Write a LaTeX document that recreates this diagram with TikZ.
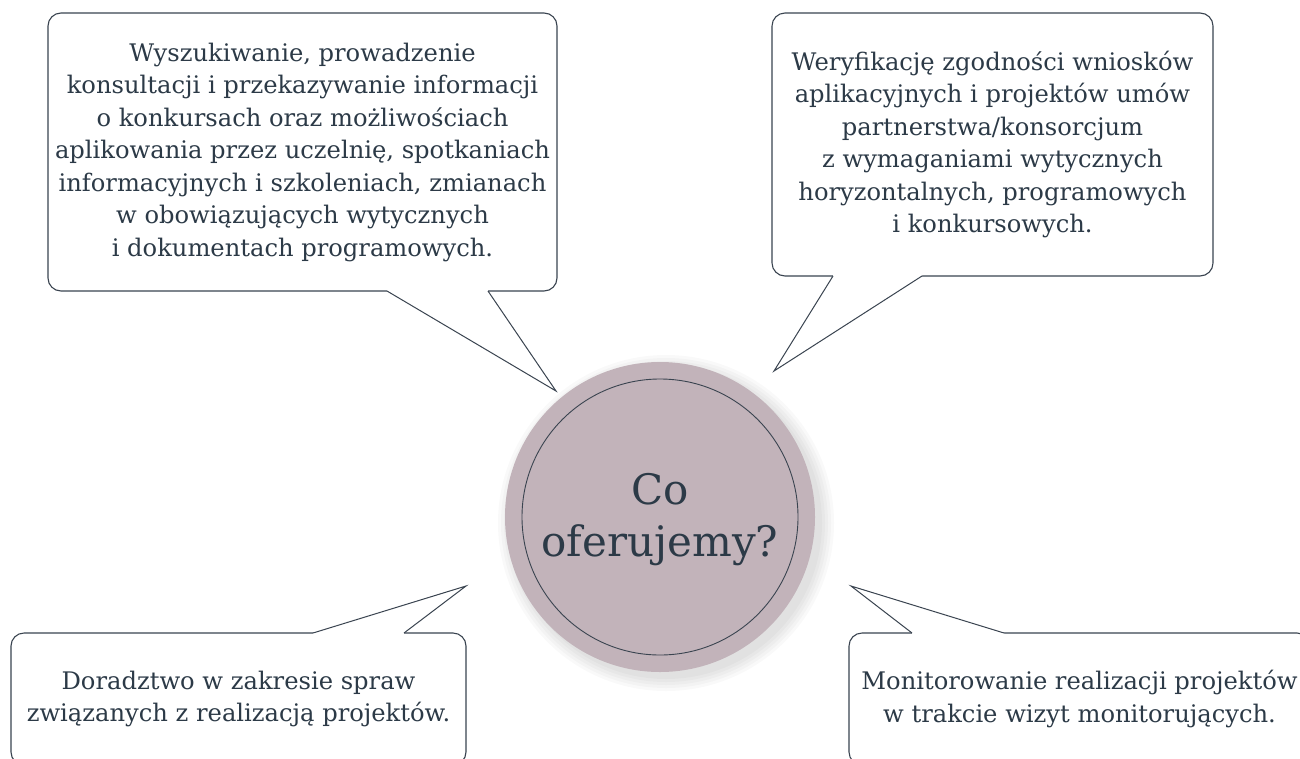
\documentclass[tikz,border=0pt]{standalone}
\usepackage{fontspec}
\setmainfont{DejaVu Serif}
\usetikzlibrary{calc}
\definecolor{ink}{HTML}{2C3A47}
\definecolor{edgecol}{HTML}{3A4450}
\definecolor{mauve}{HTML}{C2B3BA}
\tikzset{
  callout/.style={draw=edgecol, line width=1.1pt, fill=white, rounded corners=13pt,
    align=center, text=ink, font=\fontsize{24.2}{32.5}\selectfont, inner sep=0pt},
  pointer/.style={draw=edgecol, line width=1.0pt, line join=miter},
  cover/.style={fill=white, draw=none},
}
\begin{document}
\begin{tikzpicture}[x=1pt,y=-1pt]
\useasboundingbox (0,0) rectangle (1300,758);
\clip (0,0) rectangle (1300,758);
\fill[white] (0,0) rectangle (1300,758);

% soft shadow of the central circle
\foreach \r in {168,165,162,159,156}{
  \fill[black, opacity=0.025] (666,523) circle[radius=\r pt];
}
% central circle
\node[circle, minimum size=310pt, inner sep=0pt, fill=mauve] (c) at (660,517) {};
\draw[edgecol, line width=0.9pt] (c.center) circle[radius=138pt];
\node[text=ink, align=center, font=\fontsize{42}{52}\selectfont, inner sep=0pt] (ctext) at (660,520) {Co\\oferujemy?};

% callout boxes
\node[callout, minimum width=509pt, minimum height=278pt] (tl) at (302.5,152)
  {Wyszukiwanie, prowadzenie\\konsultacji i przekazywanie informacji\\o konkursach oraz możliwościach\\aplikowania przez uczelnię, spotkaniach\\informacyjnych i szkoleniach, zmianach\\w obowiązujących wytycznych\\i dokumentach programowych.};
\node[callout, minimum width=441pt, minimum height=263pt] (tr) at (992.5,144.5)
  {Weryfikację zgodności wniosków\\aplikacyjnych i projektów umów\\partnerstwa/konsorcjum\\z wymaganiami wytycznych\\horyzontalnych, programowych\\i konkursowych.};
\node[callout, minimum width=455pt, minimum height=132pt] (bl) at (238.5,699)
  {Doradztwo w zakresie spraw\\związanych z realizacją projektów.};
\node[callout, minimum width=461pt, minimum height=132pt] (br) at (1079.5,699)
  {Monitorowanie realizacji projektów\\w trakcie wizyt monitorujących.};

% pointer coordinates
\coordinate (tlA) at (387,291); \coordinate (tlB) at (488,291); \coordinate (tlT) at (556,391);
\coordinate (trA) at (833,276); \coordinate (trB) at (922,276); \coordinate (trT) at (774,371);
\coordinate (blA) at (313,633); \coordinate (blB) at (404,633); \coordinate (blT) at (466,586);
\coordinate (brA) at (912,633); \coordinate (brB) at (1004,633); \coordinate (brT) at (851,586);

% pointers
\fill[cover] ($(tlA)+(0,-1.6)$) -- (tlA) -- (tlT) -- (tlB) -- ($(tlB)+(0,-1.6)$) -- cycle;
\draw[pointer] (tlA) -- (tlT) -- (tlB);
\fill[cover] ($(trA)+(0,-1.6)$) -- (trA) -- (trT) -- (trB) -- ($(trB)+(0,-1.6)$) -- cycle;
\draw[pointer] (trA) -- (trT) -- (trB);
\fill[cover] ($(blA)+(0,1.6)$) -- (blA) -- (blT) -- (blB) -- ($(blB)+(0,1.6)$) -- cycle;
\draw[pointer] (blA) -- (blT) -- (blB);
\fill[cover] ($(brA)+(0,1.6)$) -- (brA) -- (brT) -- (brB) -- ($(brB)+(0,1.6)$) -- cycle;
\draw[pointer] (brA) -- (brT) -- (brB);
\end{tikzpicture}
\end{document}
